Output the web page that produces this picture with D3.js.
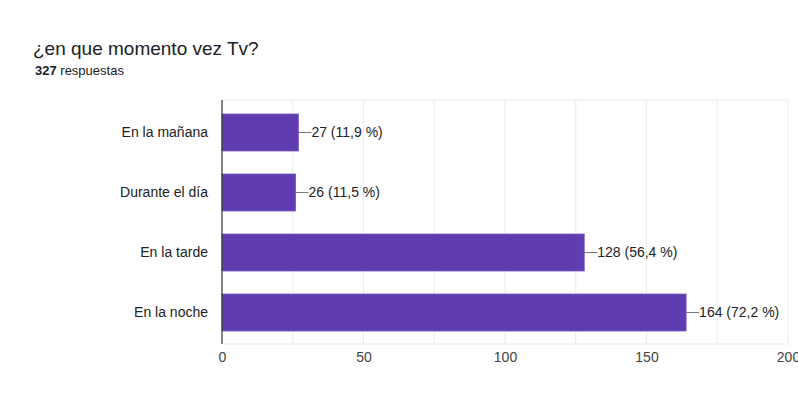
<!DOCTYPE html>
<html><head><meta charset="utf-8">
<script src="https://cdn.jsdelivr.net/npm/d3@7"></script>
<style>body{margin:0;background:#fff;}svg{display:block;font-family:"Liberation Sans",Arial,sans-serif;}</style>
</head><body>
<svg id="c" width="798" height="419"></svg>
<script>
const categories = ["En la mañana", "Durante el día", "En la tarde", "En la noche"];
const values = [27, 26, 128, 164];
const percents = ["11,9 %", "11,5 %", "56,4 %", "72,2 %"];
const xTicks = [0, 50, 100, 150, 200];
const minorTicks = [25, 75, 125, 175, 200];
const title = "¿en que momento vez Tv?";
const totalCount = "327";
const totalLabel = " respuestas";

const svg = d3.select("#c");
const m = {left: 222, right: 788, top: 100, bottom: 344};
const x = d3.scaleLinear().domain([0, 200]).range([m.left, m.right]);
const y = d3.scaleBand().domain(categories).range([m.top, 345]).paddingInner(0.383).paddingOuter(0.233);

svg.append("text").attr("x", 33).attr("y", 55).attr("font-size", 19).attr("fill", "#202124").text(title);
const sub = svg.append("text").attr("x", 35).attr("y", 75).attr("font-size", 13).attr("fill", "#202124");
sub.append("tspan").attr("font-weight", "bold").text(totalCount);
sub.append("tspan").text(totalLabel);

// grid
svg.append("g").selectAll("line").data(minorTicks.concat(xTicks.slice(1, 4))).join("line")
  .attr("x1", d => x(d)).attr("x2", d => x(d)).attr("y1", m.top).attr("y2", m.bottom)
  .attr("stroke", "#ebebeb").attr("stroke-width", 1);
svg.append("line").attr("x1", m.left).attr("x2", m.right).attr("y1", m.top).attr("y2", m.top).attr("stroke", "#ebebeb");
svg.append("line").attr("x1", m.left).attr("x2", m.right).attr("y1", m.bottom).attr("y2", m.bottom).attr("stroke", "#ebebeb");

// bars
svg.append("g").selectAll("rect").data(values).join("rect")
  .attr("x", x(0)).attr("y", (d, i) => y(categories[i]))
  .attr("width", d => x(d) - x(0)).attr("height", y.bandwidth())
  .attr("fill", "#5f3db0").attr("stroke", "#7a5cc4").attr("stroke-width", 0.8);

// leader lines + labels
const lab = svg.append("g");
values.forEach((d, i) => {
  const cy = y(categories[i]) + y.bandwidth() / 2;
  lab.append("line").attr("x1", x(d)).attr("x2", x(d) + 13).attr("y1", cy).attr("y2", cy).attr("stroke", "#777");
  lab.append("text").attr("x", x(d) + 13).attr("y", cy).attr("dy", "0.35em").attr("font-size", 14).attr("fill", "#222")
    .text(d + " (" + percents[i] + ")");
});

// category labels
svg.append("g").selectAll("text").data(categories).join("text")
  .attr("x", 208).attr("y", d => y(d) + y.bandwidth() / 2).attr("dy", "0.35em")
  .attr("text-anchor", "end").attr("font-size", 14).attr("fill", "#222").text(d => d);

// x axis
const ax = svg.append("g").attr("transform", `translate(0,${m.bottom})`)
  .call(d3.axisBottom(x).tickValues(xTicks).tickSize(0).tickPadding(8));
ax.select(".domain").remove();
ax.selectAll("text").attr("font-size", 14).attr("fill", "#444").attr("font-family", "Liberation Sans, Arial, sans-serif");

svg.append("line").attr("x1", m.left).attr("x2", m.left).attr("y1", m.top).attr("y2", m.bottom).attr("stroke", "#333").attr("stroke-width", 1.2);
</script>
</body></html>
